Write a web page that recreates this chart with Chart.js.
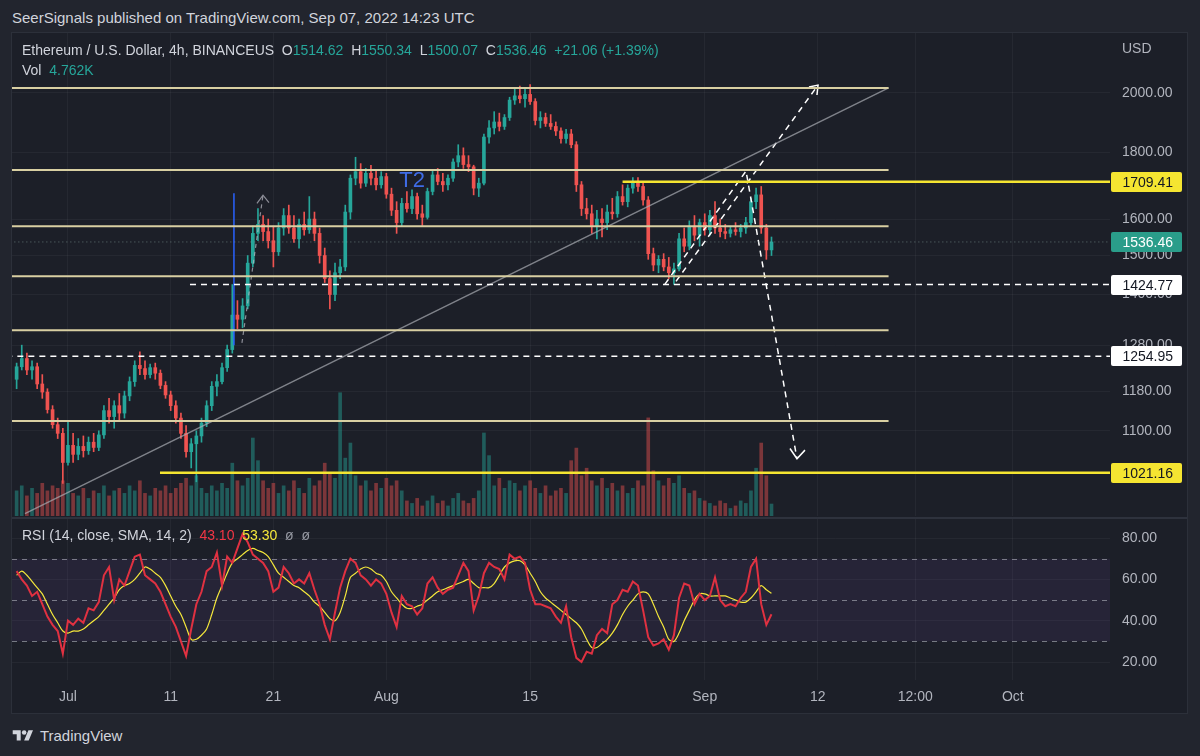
<!DOCTYPE html>
<html>
<head>
<meta charset="utf-8">
<script src="https://cdn.jsdelivr.net/npm/chart.js@4.4.0/dist/chart.umd.min.js"></script>
<style>
  body { margin: 0; width: 1200px; height: 756px; background: #22252e; overflow: hidden; position: relative;
         font-family: "Liberation Sans", Arial, sans-serif; color: #d1d4dc; }
  #panel { position: absolute; left: 11px; top: 32px; width: 1177px; height: 682px; background: #1c1f28;
           border: 1px solid #2c303a; box-sizing: border-box; }
  canvas { position: absolute; }
  .txt { position: absolute; white-space: nowrap; line-height: 18px; font-size: 14px; }
  .up { color: #26a69a; }
  .muted { color: #9598a1; }
</style>
</head>
<body>
<div id="panel"></div>
<canvas id="priceChart" width="1175" height="483" style="left:12px;top:33px"></canvas>
<canvas id="rsiChart" width="1175" height="195" style="left:12px;top:517px"></canvas>

<div class="txt" style="left:12px;top:9px;font-size:15px">SeerSignals published on TradingView.com, Sep 07, 2022 14:23 UTC</div>
<div class="txt" style="left:22px;top:41px">Ethereum / U.S. Dollar, 4h, BINANCEUS&nbsp;&nbsp;O<span class="up">1514.62</span>&nbsp;&nbsp;H<span class="up">1550.34</span>&nbsp;&nbsp;L<span class="up">1500.07</span>&nbsp;&nbsp;C<span class="up">1536.46</span>&nbsp;&nbsp;<span class="up">+21.06 (+1.39%)</span></div>
<div class="txt" style="left:22px;top:61px">Vol&nbsp;&nbsp;<span class="up">4.762K</span></div>
<div class="txt muted" style="left:1122px;top:39px;color:#b2b5be">USD</div>
<div class="txt" style="left:22px;top:526px">RSI (14, close, SMA, 14, 2)&nbsp;&nbsp;<span style="color:#f23645">43.10</span>&nbsp;&nbsp;<span style="color:#f5e83b">53.30</span>&nbsp;&nbsp;<span class="muted">ø</span>&nbsp;&nbsp;<span class="muted">ø</span></div>
<div class="txt" style="left:12px;top:727px">
  <svg width="22" height="16" viewBox="0 0 36 28" style="vertical-align:-3px"><path d="M14 22H7V11H0V4h14v18zM28 22h-8l7.5-18h8L28 22z" fill="#d1d4dc"/><circle cx="20" cy="8" r="4" fill="#d1d4dc"/></svg>
  <span style="font-size:15px;margin-left:2px">TradingView</span>
</div>

<script>
// 12h candles, first bar Jun 26 00:00 (day -5 from Jul 1), last Sep 7 12:00
const firstBarDay = -5;
const barStepDays = 0.5;

const openP = [
  1205,1232,1250,1225,1232,1195,1178,1142,1112,1095,
  1040,1072,1055,1070,1062,1078,1068,1092,1140,1128,
  1150,1135,1170,1200,1235,1228,1215,1230,1218,1192,
  1172,1150,1125,1095,1060,1075,1090,1115,1150,1190,
  1200,1230,1270,1350,1340,1372,1480,1560,1585,1565,
  1540,1510,1575,1610,1575,1545,1585,1570,1600,1560,
  1500,1440,1400,1455,1470,1620,1720,1740,1705,1735,
  1720,1700,1725,1672,1625,1590,1645,1630,1665,1615,
  1605,1680,1730,1710,1700,1720,1770,1790,1762,1755,
  1690,1705,1850,1880,1900,1885,1915,1975,1990,1980,
  1995,1970,1905,1915,1895,1885,1870,1845,1860,1825,
  1700,1630,1615,1580,1600,1590,1620,1615,1665,1650,
  1690,1710,1695,1655,1505,1475,1490,1470,1455,1465,
  1545,1525,1580,1555,1590,1570,1610,1575,1565,1560,
  1570,1565,1575,1590,1650,1670,1575,1515
];
const highP = [
  1240,1280,1262,1245,1240,1215,1185,1150,1125,1105,
  1118,1095,1085,1090,1088,1095,1100,1150,1165,1160,
  1175,1180,1210,1245,1265,1245,1238,1240,1225,1200,
  1180,1160,1135,1110,1085,1100,1125,1160,1200,1215,
  1240,1280,1425,1385,1390,1500,1580,1630,1610,1600,
  1580,1590,1630,1640,1610,1600,1620,1665,1620,1575,
  1520,1460,1480,1490,1640,1730,1785,1765,1750,1760,
  1745,1740,1735,1690,1650,1660,1680,1685,1675,1640,
  1690,1745,1750,1735,1730,1780,1825,1815,1790,1760,
  1720,1860,1905,1935,1930,1925,1985,2020,2025,2015,
  2030,1980,1935,1930,1925,1900,1880,1875,1875,1835,
  1710,1660,1640,1625,1630,1640,1660,1680,1700,1700,
  1722,1722,1705,1665,1520,1500,1505,1495,1480,1560,
  1575,1595,1610,1600,1615,1625,1650,1600,1585,1580,
  1590,1585,1605,1660,1690,1695,1585,1550
];
const lowP = [
  1185,1225,1215,1205,1185,1165,1135,1105,1085,1002,
  1035,1040,1045,1050,1055,1060,1062,1085,1115,1105,
  1120,1125,1160,1190,1215,1205,1208,1205,1185,1165,
  1140,1115,1085,1050,1030,1005,1078,1108,1140,1170,
  1195,1222,1262,1318,1320,1365,1470,1540,1540,1520,
  1470,1500,1555,1560,1535,1520,1555,1560,1540,1480,
  1430,1365,1385,1440,1460,1600,1700,1690,1695,1700,
  1685,1690,1660,1610,1560,1580,1620,1615,1600,1582,
  1600,1670,1700,1680,1685,1710,1755,1750,1740,1670,
  1665,1700,1830,1860,1870,1875,1905,1960,1965,1950,
  1960,1890,1880,1885,1875,1855,1830,1830,1815,1680,
  1610,1600,1560,1545,1550,1570,1600,1605,1640,1635,
  1675,1680,1640,1490,1460,1455,1460,1440,1425,1460,
  1510,1515,1540,1525,1555,1555,1560,1550,1545,1550,
  1555,1550,1560,1580,1630,1560,1490,1500
];
const closeP = [
  1232,1250,1225,1232,1195,1178,1142,1112,1095,1040,
  1072,1055,1070,1062,1078,1068,1092,1140,1128,1150,
  1135,1170,1200,1235,1228,1215,1230,1218,1192,1172,
  1150,1125,1095,1060,1075,1090,1115,1150,1190,1200,
  1230,1270,1350,1340,1372,1480,1560,1585,1565,1540,
  1510,1575,1610,1575,1545,1585,1570,1600,1560,1500,
  1440,1400,1455,1470,1620,1720,1740,1705,1735,1720,
  1700,1725,1672,1625,1590,1645,1630,1665,1615,1605,
  1680,1730,1710,1700,1720,1770,1790,1762,1755,1690,
  1705,1850,1880,1900,1885,1915,1975,1990,1980,1995,
  1970,1905,1915,1895,1885,1870,1845,1860,1825,1700,
  1630,1615,1580,1600,1590,1620,1615,1665,1650,1690,
  1710,1695,1655,1505,1475,1490,1470,1455,1465,1545,
  1525,1580,1555,1590,1570,1610,1575,1565,1560,1570,
  1565,1575,1590,1650,1670,1575,1515,1536.46
];
// volume, thousands of ETH
const volK = [
  10,12,8,11,9,13,10,12,11,14,
  13,9,8,11,7,10,9,12,8,10,
  11,9,12,10,14,9,8,11,10,12,
  9,11,13,15,12,16,11,9,12,10,
  13,11,21,14,12,15,31,22,14,11,
  13,9,12,10,14,11,9,15,12,14,
  21,17,15,49,23,29,16,12,14,10,
  13,11,15,12,14,10,6,5,7,4,
  6,8,5,6,4,7,9,6,5,7,
  10,33,24,12,15,11,14,13,10,12,
  14,11,9,12,8,10,11,9,22,27,
  16,19,14,12,15,11,13,10,12,9,
  11,14,12,39,18,14,12,15,13,16,
  11,9,10,7,6,5,4,6,5,3,
  4,6,5,10,19,29,16,4.762
];
const rsiVals = [
  64,60,57,52,54,48,42,38,35,24,
  40,38,41,39,46,45,49,62,66,50,
  60,57,64,71,72,62,60,58,54,48,
  42,37,30,23,36,48,54,64,66,73,
  57,71,68,75,82,78,72,70,68,64,
  54,56,66,63,58,60,58,63,55,48,
  38,31,44,56,64,70,68,62,60,57,
  60,58,53,44,37,52,48,47,43,46,
  58,61,56,53,55,56,62,68,64,45,
  52,63,68,66,65,60,72,70,71,68,
  55,48,48,47,46,42,39,47,32,22,
  20,25,24,33,36,34,48,50,55,54,
  59,57,45,32,28,29,31,26,33,51,
  58,57,48,53,50,52,61,50,47,48,
  47,51,54,66,70,48,38,43.1
];
const rsiSma = [
  62,64,62,59,56,53,48,43,39,35,
  34,35,35,36,38,40,42,45,48,51,
  55,57,58,60,63,66,65,63,61,57,
  52,47,43,37,31,31,33,36,43,51,
  57,63,68,70,72,74,75,74,73,71,
  67,63,61,59,57,56,54,52,49,47,
  44,41,40,44,52,61,63,65,66,65,
  63,62,59,54,51,48,46,46,47,48,
  50,52,54,55,56,57,58,59,60,58,
  56,56,56,58,62,66,68,69,69,67,
  63,59,54,51,49,47,45,43,41,39,
  36,31,27,27,29,31,34,38,43,47,
  50,53,54,53,48,42,37,31,30,34,
  40,45,50,53,53,52,52,52,52,51,
  50,49,49,51,54,57,55,53.3
];

// axes (days counted from Jul 1)
const viewStartDay = -5.45;
const viewEndDay = 101.46;
const dateTicks = [0, 10, 20, 31, 45, 62, 73, 82.5, 92];
const dateLabels = ['Jul', '11', '21', 'Aug', '15', 'Sep', '12', '12:00', 'Oct'];
const priceMin = 946;
const priceMax = 2224;
const priceTicks = [1100, 1180, 1280, 1400, 1500, 1600, 1800, 2000];
const volMax = 192;
const rsiMin = 11.3;
const rsiMax = 90.2;
const rsiTicks = [20, 40, 60, 80];
const rsiGuides = [70, 50, 30];

// drawings on the price pane
const paleLevels = [2018, 1745, 1580, 1446, 1314, 1119];
const paleLevelEnd = 79.9;
const yellowLevels = [1709.41, 1021.16];
const yellowLevelStart = [54.0, 8.96];
const dashedLevels = [1424.77, 1254.95];
const dashedLevelStart = [11.88, -6];
const lastPrice = 1536.46;
const trendLine = [[-4.19, 950], [79.9, 2018]];
const pathDown = [[58.13, 1426], [66.02, 1742], [70.98, 1047]];
const arrowDown = [[70.3, 1066], [70.98, 1047], [71.76, 1063]];
const pathUp = [[59.2, 1433], [73.03, 2028]];
const arrowUp = [[72.15, 2021], [73.03, 2028], [72.93, 1993]];
const julyPath = [[16.94, 1285], [18.99, 1669]];
const julyArrow = [[18.4, 1645], [18.99, 1669], [19.57, 1647]];
const blueMark = [[16.16, 1280], [16.16, 1675]];
const noteText = 'T2';
const noteAt = [33.5, 1712];
const axisMarks = [1709.41, 1536.46, 1424.77, 1254.95, 1021.16];
const axisMarkBg = ['#f5e531', '#2a9d8a', '#ffffff', '#ffffff', '#f5e531'];
const axisMarkFg = ['#131722', '#ffffff', '#131722', '#131722', '#131722'];

const FONT = '"Liberation Sans", Arial, sans-serif';
const GRID = 'rgba(255,255,255,0.045)';
const UP = '#26a69a';
const DOWN = '#ef5350';

document.addEventListener('DOMContentLoaded', function() {
    Chart.defaults.font.family = FONT;
    Chart.defaults.font.size = 14;
    Chart.defaults.color = '#b2b5be';

    const barDays = closeP.map((c, i) => firstBarDay + i * barStepDays);
    const upBar = closeP.map((c, i) => c >= openP[i]);

    function drawLine(points, color, width, dash) {
        return {
            type: 'line',
            yAxisID: 'y',
            order: 1,
            data: points.map(p => ({ x: p[0], y: p[1] })),
            borderColor: color,
            borderWidth: width,
            borderDash: dash || [],
            pointRadius: 0,
            fill: false,
            tension: 0
        };
    }

    const drawings = [];
    paleLevels.forEach(v => drawings.push(drawLine([[-6, v], [paleLevelEnd, v]], '#d8cfa2', 2)));
    yellowLevels.forEach((v, i) => drawings.push(drawLine([[yellowLevelStart[i], v], [110, v]], '#f5e531', 2.5)));
    dashedLevels.forEach((v, i) => drawings.push(drawLine([[dashedLevelStart[i], v], [110, v]], '#ffffff', 1.5, [6, 5])));
    drawings.push(drawLine([[-6, lastPrice], [110, lastPrice]], 'rgba(140,170,165,0.6)', 1, [1, 3]));
    drawings.push(drawLine(trendLine, 'rgba(170,172,180,0.7)', 1.5));
    drawings.push(drawLine(pathDown, '#ffffff', 1.5, [6, 5]));
    drawings.push(drawLine(arrowDown, '#ffffff', 1.5));
    drawings.push(drawLine(pathUp, '#ffffff', 1.5, [6, 5]));
    drawings.push(drawLine(arrowUp, '#ffffff', 1.5));
    drawings.push(drawLine(julyPath, 'rgba(190,190,200,0.7)', 1.2, [4, 4]));
    drawings.push(drawLine(julyArrow, 'rgba(190,190,200,0.7)', 1.2));
    drawings.push(drawLine(blueMark, '#2962ff', 1.5));

    // T2 note and the price boxes on the axis
    const priceOverlay = {
        id: 'priceOverlay',
        afterDatasetsDraw(chart) {
            const { ctx, scales } = chart;
            ctx.save();
            ctx.font = '22px ' + FONT;
            ctx.fillStyle = '#3f6ce6';
            ctx.textAlign = 'center';
            ctx.textBaseline = 'middle';
            ctx.fillText(noteText, scales.x.getPixelForValue(noteAt[0]), scales.y.getPixelForValue(noteAt[1]));
            ctx.restore();
        },
        afterDraw(chart) {
            const { ctx, chartArea, scales } = chart;
            ctx.save();
            ctx.font = '14px ' + FONT;
            ctx.textAlign = 'right';
            ctx.textBaseline = 'middle';
            axisMarks.forEach((v, i) => {
                const y = Math.round(scales.y.getPixelForValue(v));
                ctx.fillStyle = axisMarkBg[i];
                ctx.beginPath();
                ctx.roundRect(chartArea.right + 1, y - 10, 71, 20, 2);
                ctx.fill();
                ctx.fillStyle = axisMarkFg[i];
                ctx.fillText(v.toFixed(2), chartArea.right + 63, y + 1);
            });
            ctx.restore();
        }
    };

    const priceChart = new Chart(document.getElementById('priceChart'), {
        type: 'bar',
        data: {
            datasets: [
                ...drawings,
                {
                    label: 'wick',
                    yAxisID: 'y',
                    order: 5,
                    grouped: false,
                    barThickness: 1,
                    data: barDays.map((d, i) => ({ x: d, y: [lowP[i], highP[i]] })),
                    backgroundColor: upBar.map(u => u ? UP : DOWN)
                },
                {
                    label: 'body',
                    yAxisID: 'y',
                    order: 4,
                    grouped: false,
                    barThickness: 3,
                    data: barDays.map((d, i) => ({ x: d, y: [openP[i], closeP[i]] })),
                    backgroundColor: upBar.map(u => u ? UP : DOWN)
                },
                {
                    label: 'volume',
                    yAxisID: 'yv',
                    order: 10,
                    grouped: false,
                    barThickness: 3,
                    data: barDays.map((d, i) => ({ x: d, y: volK[i] })),
                    backgroundColor: upBar.map(u => u ? 'rgba(38,166,154,0.45)' : 'rgba(239,83,80,0.45)')
                }
            ]
        },
        options: {
            responsive: false,
            animation: false,
            events: [],
            layout: { padding: 0 },
            plugins: { legend: { display: false }, tooltip: { enabled: false } },
            scales: {
                x: {
                    type: 'linear',
                    min: viewStartDay,
                    max: viewEndDay,
                    bounds: 'data',
                    offset: false,
                    grid: { color: GRID, offset: false, drawTicks: false },
                    border: { display: false },
                    ticks: { display: false },
                    afterBuildTicks: s => { s.ticks = dateTicks.map(v => ({ value: v })); },
                    afterFit: s => { s.height = 0; s.paddingLeft = 0; s.paddingRight = 0; }
                },
                y: {
                    type: 'logarithmic',
                    position: 'right',
                    min: priceMin,
                    max: priceMax,
                    bounds: 'data',
                    grid: { color: GRID, drawTicks: false },
                    border: { display: false },
                    ticks: { padding: 12, autoSkip: false, callback: v => Number(v).toFixed(2) },
                    afterBuildTicks: s => { s.ticks = priceTicks.map(v => ({ value: v })); },
                    afterFit: s => { s.width = 77; s.paddingTop = 0; s.paddingBottom = 0; }
                },
                yv: { type: 'linear', display: false, min: 0, max: volMax }
            }
        },
        plugins: [priceOverlay]
    });

    // overbought / oversold band and the pane separator
    const rsiBand = {
        id: 'rsiBand',
        beforeDatasetsDraw(chart) {
            const { ctx, chartArea: a, scales: { y } } = chart;
            const top = y.getPixelForValue(rsiGuides[0]);
            const bot = y.getPixelForValue(rsiGuides[2]);
            ctx.save();
            ctx.fillStyle = 'rgba(126,87,194,0.10)';
            ctx.fillRect(a.left, top, a.right - a.left, bot - top);
            ctx.strokeStyle = 'rgba(178,181,190,0.6)';
            ctx.lineWidth = 1;
            ctx.setLineDash([5, 5]);
            rsiGuides.forEach(v => {
                const py = Math.round(y.getPixelForValue(v)) + 0.5;
                ctx.beginPath();
                ctx.moveTo(a.left, py);
                ctx.lineTo(a.right, py);
                ctx.stroke();
            });
            ctx.restore();
        },
        afterDraw(chart) {
            const { ctx, width } = chart;
            ctx.save();
            ctx.fillStyle = '#2e323d';
            ctx.fillRect(0, 0, width, 2);
            ctx.restore();
        }
    };

    const rsiChart = new Chart(document.getElementById('rsiChart'), {
        type: 'line',
        data: {
            datasets: [
                {
                    label: 'RSI',
                    data: barDays.map((d, i) => ({ x: d, y: rsiVals[i] })),
                    borderColor: '#e03141',
                    borderWidth: 2,
                    pointRadius: 0,
                    tension: 0
                },
                {
                    label: 'SMA',
                    data: barDays.map((d, i) => ({ x: d, y: rsiSma[i] })),
                    borderColor: '#f5e83b',
                    borderWidth: 1.2,
                    pointRadius: 0,
                    tension: 0.3
                }
            ]
        },
        options: {
            responsive: false,
            animation: false,
            events: [],
            layout: { padding: 0 },
            plugins: { legend: { display: false }, tooltip: { enabled: false } },
            scales: {
                x: {
                    type: 'linear',
                    min: viewStartDay,
                    max: viewEndDay,
                    bounds: 'data',
                    grid: { color: GRID, drawTicks: false },
                    border: { display: false },
                    ticks: { padding: 9, autoSkip: false, maxRotation: 0, callback: (v, i) => dateLabels[i] },
                    afterBuildTicks: s => { s.ticks = dateTicks.map(v => ({ value: v })); },
                    afterFit: s => { s.height = 32; s.paddingLeft = 0; s.paddingRight = 0; }
                },
                y: {
                    type: 'linear',
                    position: 'right',
                    min: rsiMin,
                    max: rsiMax,
                    bounds: 'data',
                    grid: { color: GRID, drawTicks: false },
                    border: { display: false },
                    ticks: { padding: 12, autoSkip: false, callback: v => Number(v).toFixed(2) },
                    afterBuildTicks: s => { s.ticks = rsiTicks.map(v => ({ value: v })); },
                    afterFit: s => { s.width = 77; s.paddingTop = 0; s.paddingBottom = 0; }
                }
            }
        },
        plugins: [rsiBand]
    });
});
</script>
</body>
</html>
